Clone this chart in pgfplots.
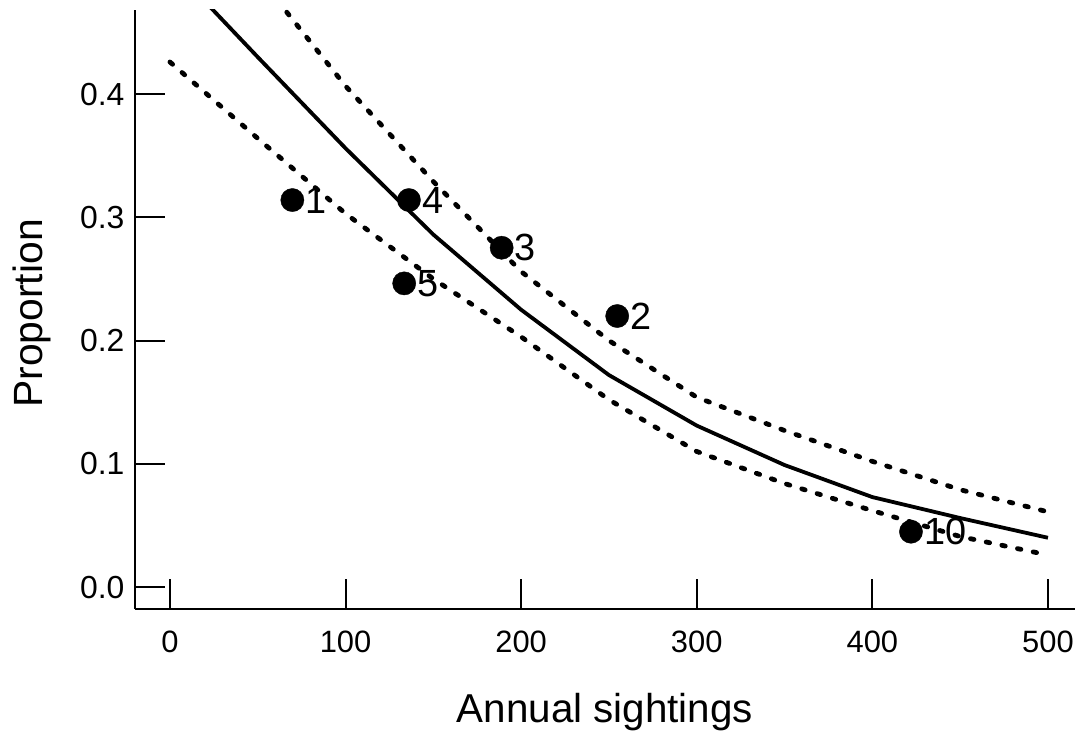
\documentclass[border=0pt]{standalone}
\usepackage{fontspec}
\setmainfont{Liberation Sans}
\usepackage{pgfplots}
\pgfplotsset{compat=1.18}
\begin{document}
\begin{tikzpicture}
\begin{axis}[
 name=ax,
 scale only axis,
 width=940bp, height=599bp,
 xmin=-19.9, xmax=515.4, ymin=-0.0178, ymax=0.4682,
 axis x line*=bottom, axis y line*=left,
 axis line style={line width=2bp, black},
 tick align=inside,
 major tick length=30bp,
 every tick/.style={line width=2bp, black},
 xtick={0,100,200,300,400,500},
 ytick={0,0.1,0.2,0.3,0.4},
 yticklabels={0.0,0.1,0.2,0.3,0.4},
 /pgf/number format/assume math mode=true,
 xticklabel style={font=\fontsize{31}{37}\selectfont, yshift=-18bp},
 yticklabel style={font=\fontsize{32}{38}\selectfont, xshift=-7bp},
 xlabel={Annual sightings}, ylabel={Proportion},
 xlabel style={font=\fontsize{40.5}{48}\selectfont, at={(axis description cs:0.5,-0.1903)}, anchor=base},
 ylabel style={font=\fontsize{41}{48}\selectfont, at={(axis description cs:-0.0985,0.4935)}, anchor=base},
]
\addplot[line width=3.8bp, black, line join=round] coordinates {
(0,0.505) (50,0.430) (100,0.356) (150,0.286) (200,0.225) (250,0.172) (300,0.131) (350,0.099) (400,0.073) (450,0.056) (500,0.040)};
\addplot[line width=4.8bp, black, line cap=round, dash pattern=on 3.5bp off 12.5bp] coordinates {
(0,0.59) (50,0.496) (100,0.4065) (150,0.329) (200,0.256) (250,0.200) (300,0.154) (350,0.127) (400,0.102) (450,0.079) (500,0.061)};
\addplot[line width=4.8bp, black, line cap=round, dash pattern=on 3.5bp off 12.5bp] coordinates {
(0,0.426) (50,0.364) (100,0.303) (150,0.250) (200,0.203) (250,0.152) (300,0.110) (350,0.084) (400,0.062) (450,0.041) (500,0.026)};
\addplot[only marks, mark=*, mark size=11.6bp, black, mark options={fill=black},
 nodes near coords, point meta=explicit symbolic, nodes near coords align=horizontal,
 every node near coord/.append style={anchor=west, inner sep=0pt, xshift=13bp, font=\fontsize{38}{45}\selectfont}]
 table[meta=lab] {
x y lab
69.7 0.314 1
136.1 0.314 4
188.9 0.2753 3
133.4 0.2464 5
254.7 0.2199 2
422.0 0.0449 10
};
\end{axis}
\pgfresetboundingbox
\path ([xshift=-135bp,yshift=-125bp]ax.south west) rectangle ([yshift=10bp]ax.north east);
\end{tikzpicture}
\end{document}
